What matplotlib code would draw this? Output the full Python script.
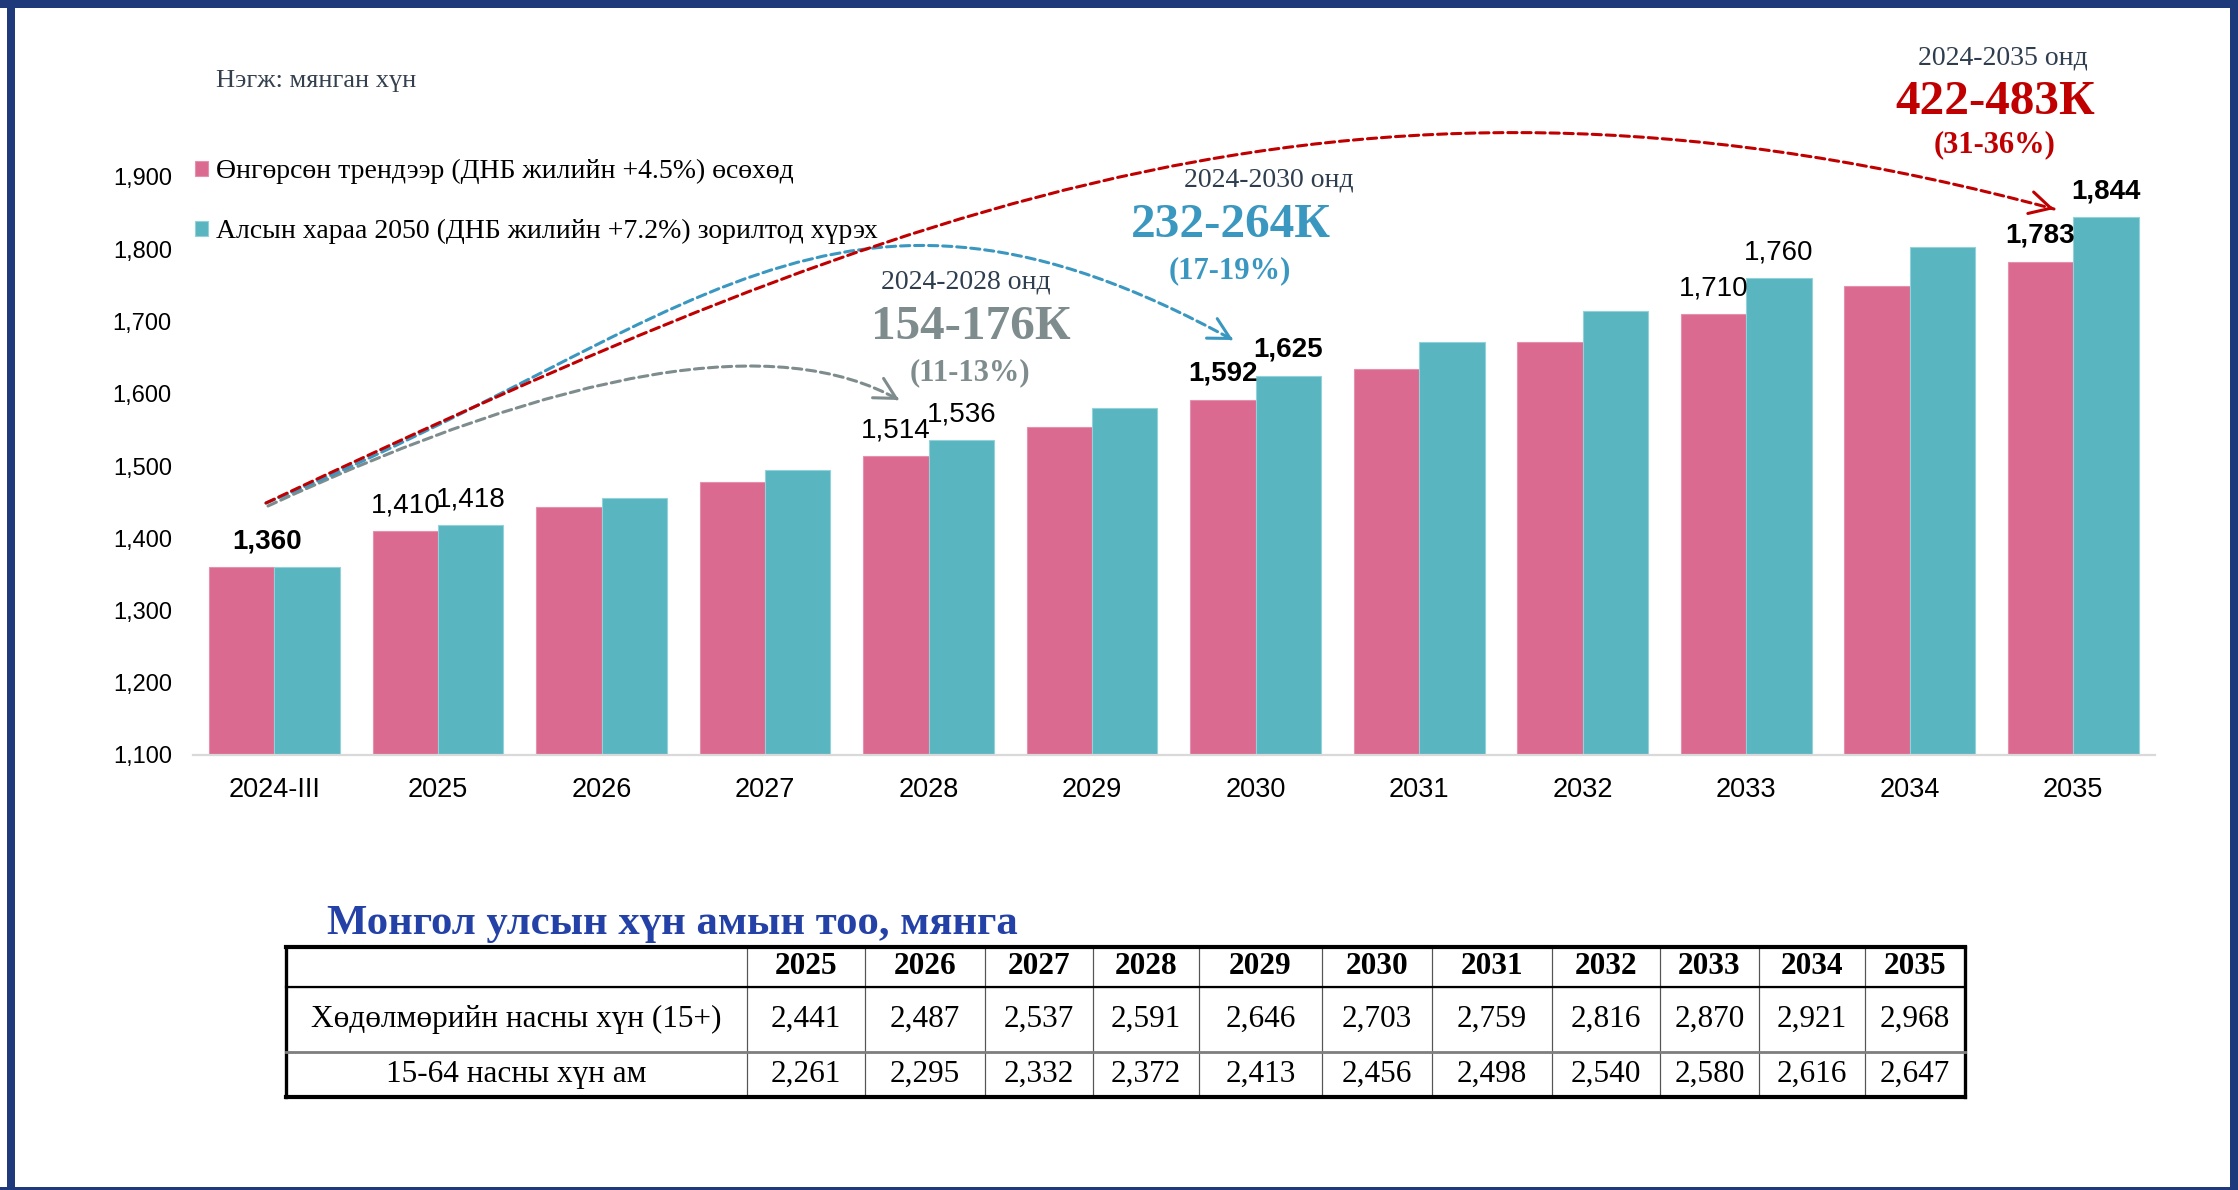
import matplotlib
matplotlib.use('Agg')
import matplotlib.pyplot as plt
import matplotlib.transforms as mtransforms
from matplotlib.patches import Rectangle, FancyArrowPatch
from matplotlib.path import Path
from matplotlib.font_manager import FontProperties
import numpy as np

# ---------------- data ----------------
categories = ['2024-III', '2025', '2026', '2027', '2028', '2029',
              '2030', '2031', '2032', '2033', '2034', '2035']
trend_vals = [1360, 1410, 1443, 1478, 1514, 1554, 1592, 1634, 1672, 1710, 1749, 1783]
vision_vals = [1360, 1418, 1456, 1495, 1536, 1580, 1625, 1671, 1715, 1760, 1803, 1844]
series_names = ['Өнгөрсөн трендээр (ДНБ жилийн +4.5%) өсөхөд',
                'Алсын хараа 2050 (ДНБ жилийн +7.2%) зорилтод хүрэх']
yticks = [1100, 1200, 1300, 1400, 1500, 1600, 1700, 1800, 1900]
unit_text = 'Нэгж: мянган хүн'

# which bars carry data labels
single_label_idx = [0]
pair_label_idx = [1, 4, 6, 9, 11]
bold_label_idx = [0, 6, 11]

range_periods = ['2024-2028 онд', '2024-2030 онд', '2024-2035 онд']
range_values = ['154-176К', '232-264К', '422-483К']
range_pcts = ['(11-13%)', '(17-19%)', '(31-36%)']

table_title = 'Монгол улсын хүн амын тоо, мянга'
table_years = ['2025', '2026', '2027', '2028', '2029', '2030',
               '2031', '2032', '2033', '2034', '2035']
table_rows = ['Хөдөлмөрийн насны хүн (15+)', '15-64 насны хүн ам']
working_age = [2441, 2487, 2537, 2591, 2646, 2703, 2759, 2816, 2870, 2921, 2968]
age_15_64 = [2261, 2295, 2332, 2372, 2413, 2456, 2498, 2540, 2580, 2616, 2647]

# ---------------- styles ----------------
PINK = '#DA6A90'
TEAL = '#59B5C0'
GRAY_T = '#7E8C8D'
BLUE_T = '#3A97C0'
RED_T = '#C00000'
DARK_T = '#2F3E4E'
NAVY = '#1F3A7A'
SANS = 'Liberation Sans'
SERIF = 'Liberation Serif'

W, H, DPI = 2238, 1190, 100
fig = plt.figure(figsize=(W / DPI, H / DPI), dpi=DPI)
fig.patch.set_facecolor('white')
# transform: pixel coords with origin at top-left
px = mtransforms.Affine2D().scale(1.0 / W, -1.0 / H).translate(0, 1) + fig.transFigure

# ---------------- bar chart ----------------
ax_l, ax_r, ax_b, ax_t = 192.7, 2155.0, 755.0, 177.0
ax = fig.add_axes([ax_l / W, 1 - ax_b / H, (ax_r - ax_l) / W, (ax_b - ax_t) / H])
ax.set_facecolor('none')
x = np.arange(len(categories))
bw = 0.4
b1 = ax.bar(x - bw / 2, trend_vals, width=bw, color=PINK, edgecolor='#E590AE', linewidth=0.8,
            label=series_names[0], zorder=2)
b2 = ax.bar(x + bw / 2, vision_vals, width=bw, color=TEAL, edgecolor='#93D2D8', linewidth=0.8,
            label=series_names[1], zorder=2)
ax.set_xlim(-0.5, len(categories) - 0.5)
ax.set_ylim(yticks[0], yticks[-1])
ax.set_yticks(yticks)
ax.set_yticklabels([f'{v:,}' for v in yticks], fontfamily=SANS, fontsize=17)
ax.set_xticks(x)
ax.set_xticklabels(categories, fontfamily=SANS, fontsize=19.5)
ax.tick_params(axis='y', length=0, pad=15)
ax.tick_params(axis='x', length=0, pad=16)
for s in ['top', 'right', 'left']:
    ax.spines[s].set_visible(False)
ax.spines['bottom'].set_color('#D9D9D9')
ax.spines['bottom'].set_linewidth(1.6)


def put_label(xpos, val, bold, dx=0):
    ax.annotate(f'{val:,}', xy=(xpos, val), xytext=(dx, 13.5), textcoords='offset points',
                ha='center', va='baseline', fontsize=20, fontfamily=SANS,
                fontweight='bold' if bold else 'normal', color='black', zorder=5)


for i in single_label_idx:
    put_label(x[i], trend_vals[i], i in bold_label_idx, dx=-5)
for i in pair_label_idx:
    put_label(x[i] - bw / 2, trend_vals[i], i in bold_label_idx)
    put_label(x[i] + bw / 2, vision_vals[i], i in bold_label_idx)

# legend
fig.legend(handles=[b1, b2], labels=series_names, loc='upper left',
           bbox_to_anchor=(195, 159), bbox_transform=px, frameon=False,
           borderpad=0, borderaxespad=0, handlelength=0.47, handleheight=0.47,
           handletextpad=0.29, labelspacing=1.25,
           prop=FontProperties(family=SERIF, size=20))

fig.text(216, 87, unit_text, transform=px, ha='left', va='baseline',
         fontfamily=SERIF, fontsize=19, color='#34404E')

# ---------------- range annotations ----------------
range_colors = [GRAY_T, BLUE_T, RED_T]
period_pos = [(966, 289), (1269, 187), (2003, 65)]
value_pos = [(971, 339), (1231, 237), (1995, 114)]
pct_pos = [(970, 380), (1230, 278), (1995, 152)]
for k in range(3):
    fig.text(*period_pos[k], range_periods[k], transform=px, ha='center', va='baseline',
             fontfamily=SERIF, fontsize=20, color=DARK_T)
    fig.text(*value_pos[k], range_values[k], transform=px, ha='center', va='baseline',
             fontfamily=SERIF, fontsize=35.5, fontweight='bold', color=range_colors[k])
    fig.text(*pct_pos[k], range_pcts[k], transform=px, ha='center', va='baseline',
             fontfamily=SERIF, fontsize=22, fontweight='bold', color=range_colors[k])

# curved dashed arrows (pixel geometry of the annotation arcs)
arcs = [
    ([(268, 506), (718, 297), (899, 400)], [Path.MOVETO, Path.CURVE3, Path.CURVE3], GRAY_T),
    ([(266, 503), (690, 330), (833, 120), (1233, 340)],
     [Path.MOVETO, Path.CURVE4, Path.CURVE4, Path.CURVE4], BLUE_T),
    ([(266, 503), (914, 198), (1362, 23), (2054, 209)],
     [Path.MOVETO, Path.CURVE4, Path.CURVE4, Path.CURVE4], RED_T),
]
for verts, codes, col in arcs:
    body = FancyArrowPatch(path=Path(verts, codes), arrowstyle='-', color=col,
                           linewidth=2.2, linestyle=(0, (3, 1.6)), transform=px, zorder=4)
    fig.add_artist(body)
    tip = np.array(verts[-1], float)
    d = tip - np.array(verts[-2], float)
    d /= np.hypot(*d)
    head = FancyArrowPatch(posA=tuple(tip - 3 * d), posB=tuple(tip),
                           arrowstyle='->,head_length=0.75,head_width=0.4', mutation_scale=20,
                           color=col, linewidth=2.2, shrinkA=0, shrinkB=0,
                           transform=px, zorder=4)
    fig.add_artist(head)

# ---------------- table ----------------
fig.text(327, 934, table_title, transform=px, ha='left', va='baseline',
         fontfamily=SERIF, fontsize=30.8, fontweight='bold', color='#2341A6')

col_edges = [286, 747, 865, 985, 1093, 1199, 1322, 1432, 1552, 1660, 1759, 1865, 1965]
t_top, t_bot = 946.7, 1097.0
row_heights = [40, 65, 45]
tax = fig.add_axes([col_edges[0] / W, 1 - t_bot / H,
                    (col_edges[-1] - col_edges[0]) / W, (t_bot - t_top) / H])
tax.axis('off')
widths = np.diff(col_edges) / (col_edges[-1] - col_edges[0])
cell_text = [[''] + table_years,
             [table_rows[0]] + [f'{v:,}' for v in working_age],
             [table_rows[1]] + [f'{v:,}' for v in age_15_64]]
tbl = tax.table(cellText=cell_text, colWidths=list(widths), cellLoc='center', bbox=[0, 0, 1, 1])
tbl.auto_set_font_size(False)
tot_h = sum(row_heights)
for (r, c), cell in tbl.get_celld().items():
    cell.set_height(row_heights[r] / tot_h)
    cell.set_facecolor('none')
    cell.set_edgecolor('#555555')
    cell.set_linewidth(0.8)
    t = cell.get_text()
    t.set_fontsize(22.5)
    t.set_fontfamily(SERIF)
    if r == 0:
        t.set_fontweight('bold')

# heavy table rules
y1 = 1 - row_heights[0] / tot_h
y2 = row_heights[2] / tot_h
for (xs, ys, lw, col) in [([0, 1], [1, 1], 3.0, 'black'), ([0, 1], [0, 0], 3.0, 'black'),
                          ([0, 0], [0, 1], 2.4, 'black'), ([1, 1], [0, 1], 2.4, 'black'),
                          ([0, 1], [y1, y1], 1.6, 'black'), ([0, 1], [y2, y2], 2.0, '#7F7F7F')]:
    tax.plot(xs, ys, transform=tax.transAxes, color=col, lw=lw, clip_on=False,
             solid_capstyle='projecting')

# ---------------- slide frame ----------------
for (rx, ry, rw, rh) in [(0, 0, W, 8), (7, 0, 8, H), (2230, 0, 8, H), (0, 1187, W, 3)]:
    fig.add_artist(Rectangle((rx, ry), rw, rh, transform=px, facecolor=NAVY,
                             edgecolor='none', zorder=10))

fig.savefig('out.png', dpi=DPI, facecolor='white')
